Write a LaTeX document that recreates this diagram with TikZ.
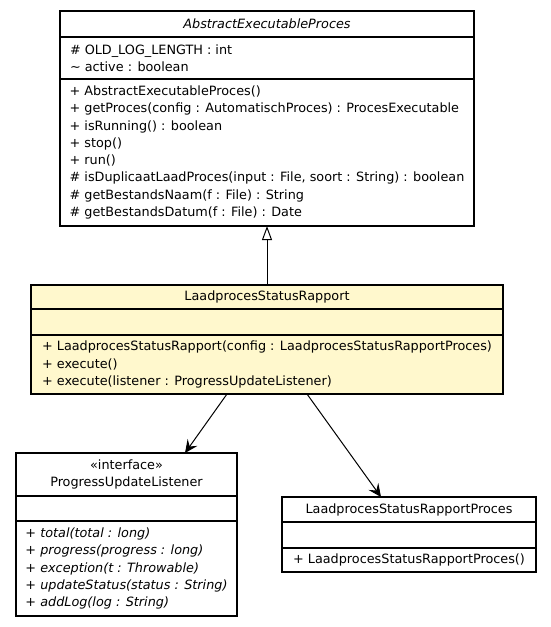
\documentclass[tikz,border=0pt]{standalone}
\usepackage{fontspec}
\setmainfont{DejaVu Sans}
\usetikzlibrary{arrows.meta, positioning}
\definecolor{lemon}{HTML}{FFF8CD}

\begin{document}
\begin{tikzpicture}[x=1pt,y=1pt,
        font=\fontsize{12.8}{17.3}\selectfont,
        class part/.style={draw,rectangle,line width=1.1pt,inner sep=0pt,
            outer sep=0pt,align=left},
        title part/.style={class part,align=center,anchor=north},
        assoc/.style={line width=1pt,-{Stealth[length=13pt,width=12pt,inset=5pt]}},
        inherit/.style={line width=1pt,-{Triangle[open,length=14pt,width=10pt]}}]
        \useasboundingbox (0,0) rectangle (551,-627);

        % abstract base class
        \node[title part,minimum width=414pt,minimum height=26pt] (abstract) at (267,-11) {\textit{AbstractExecutableProces}};
        \node[class part,minimum width=414pt,minimum height=42pt,text width=394pt,align=flush left] (abstractattrs) [below=0pt of abstract]
            {\# OLD\_LOG\_LENGTH : int\\\textasciitilde{} active : boolean};
        \node[class part,minimum width=414pt,minimum height=147pt] (abstractops) [below=0pt of abstractattrs]
            {+ AbstractExecutableProces()\\
             + getProces(config : AutomatischProces) : ProcesExecutable\\
             + isRunning() : boolean\\
             + stop()\\
             + run()\\
             \# isDuplicaatLaadProces(input : File, soort : String) : boolean\\
             \# getBestandsNaam(f : File) : String\\
             \# getBestandsDatum(f : File) : Date};

        % the class itself
        \node[title part,fill=lemon,minimum width=472pt,minimum height=24pt] (rapport) [below=59pt of abstractops] {LaadprocesStatusRapport};
        \node[class part,fill=lemon,minimum width=472pt,minimum height=26pt] (rapportattrs) [below=0pt of rapport] {};
        \node[class part,fill=lemon,minimum width=472pt,minimum height=59pt] (rapportops) [below=0pt of rapportattrs]
            {+ LaadprocesStatusRapport(config : LaadprocesStatusRapportProces)\\
             + execute()\\
             + execute(listener : ProgressUpdateListener)};

        % interface
        \node[title part,minimum width=221pt,minimum height=43pt] (listener) at (126.5,-453) {«interface»\\ProgressUpdateListener};
        \node[class part,minimum width=221pt,minimum height=25pt] (listenerattrs) [below=0pt of listener] {};
        \node[class part,minimum width=221pt,minimum height=95pt] (listenerops) [below=0pt of listenerattrs]
            {+ \textit{total(total : long)}\\
             + \textit{progress(progress : long)}\\
             + \textit{exception(t : Throwable)}\\
             + \textit{updateStatus(status : String)}\\
             + \textit{addLog(log : String)}};

        % config class
        \node[title part,minimum width=254pt,minimum height=25pt] (proces) at (409,-497) {LaadprocesStatusRapportProces};
        \node[class part,minimum width=254pt,minimum height=26pt] (procesattrs) [below=0pt of proces] {};
        \node[class part,minimum width=254pt,minimum height=24pt] (procesops) [below=0pt of procesattrs]
            {+ LaadprocesStatusRapportProces()};

        \draw[inherit] (rapport.north) -- (abstractops.south);
        \draw[assoc] ([xshift=196pt]rapportops.south west) -- ([xshift=58.5pt]listener.north);
        \draw[assoc] ([xshift=276pt]rapportops.south west) -- ([xshift=-28pt]proces.north);
\end{tikzpicture}
\end{document}
